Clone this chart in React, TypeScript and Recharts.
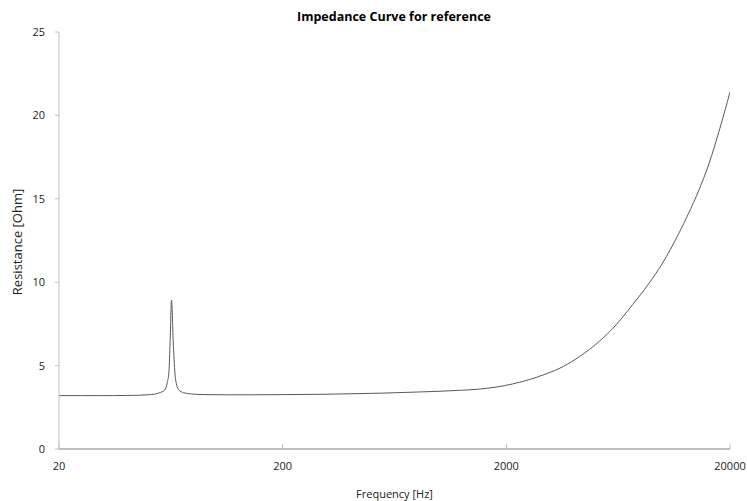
import React from "react";
import {
  LineChart,
  Line,
  XAxis,
  YAxis,
} from "recharts";

// frequency [Hz] and resistance [Ohm]
const frequencies = [
  20, 25, 30, 35, 40, 45, 50, 54, 57, 59.5, 61, 62, 62.8, 63.7, 64.8, 66, 67,
  68.7, 72, 78, 90, 110, 150, 200, 300, 400, 558, 700, 1000, 1250, 1514, 2134,
  3006, 3600, 4236, 5203, 6200, 7329, 8600, 9940, 11832, 13030, 14500, 16100,
  18000, 20000,
];
const resistance = [
  3.2, 3.2, 3.2, 3.2, 3.21, 3.22, 3.25, 3.3, 3.4, 3.54, 4.0, 4.6, 6.5, 8.93,
  6.5, 4.5, 3.9, 3.54, 3.38, 3.3, 3.26, 3.25, 3.25, 3.26, 3.28, 3.31, 3.35,
  3.39, 3.46, 3.52, 3.59, 3.9, 4.5, 4.95, 5.53, 6.45, 7.45, 8.65, 9.85, 11.1,
  12.95, 14.1, 15.5, 17.1, 19.2, 21.4,
];
const xTicks = [20, 200, 2000, 20000];
const yTicks = [0, 5, 10, 15, 20, 25];

const data = frequencies.map((f, i) => ({ f, r: resistance[i] }));

const font = "Open Sans, Carlito, sans-serif";
const gray = "#bfbfbf";

export default function App() {
  return (
    <div
      style={{
        position: "absolute",
        left: 0,
        top: 0,
        width: 747,
        height: 501,
        background: "#fff",
        fontFamily: font,
      }}
    >
      <LineChart
        width={747}
        height={501}
        data={data}
        margin={{ top: 32, right: 17, bottom: 0, left: 0 }}
      >
        <text
          x={394}
          y={21}
          textAnchor="middle"
          fontSize={12.5}
          fontWeight="bold"
          fill="#000"
          fontFamily={font}
        >
          Impedance Curve for reference
        </text>
        {/* judul sumbu Y diputar manual */}
        <text
          x={0}
          y={0}
          transform="translate(22, 242) rotate(-90)"
          textAnchor="middle"
          fontSize={13}
          fill="#222"
          fontFamily={font}
        >
          Resistance [Ohm]
        </text>
        <XAxis
          xAxisId="top"
          orientation="top"
          type="number"
          dataKey="f"
          scale="log"
          domain={[20, 20000]}
          tick={false}
          tickLine={false}
          axisLine={{ stroke: gray }}
          height={0}
        />
        <YAxis
          yAxisId="right"
          orientation="right"
          type="number"
          domain={[0, 25]}
          tick={false}
          tickLine={false}
          axisLine={{ stroke: gray }}
          width={0}
        />
        <XAxis
          type="number"
          dataKey="f"
          scale="log"
          domain={[20, 20000]}
          ticks={xTicks}
          allowDataOverflow
          tickLine={{ stroke: gray }}
          tickSize={-5}
          axisLine={{ stroke: gray, strokeWidth: 2 }}
          tick={{ fontSize: 11, fill: "#222", fontFamily: font, dy: 16 }}
          height={52}
          label={{
            value: "Frequency [Hz]",
            position: "insideBottom",
            offset: 3,
            fontSize: 11,
            fill: "#222",
            fontFamily: font,
          }}
        />
        <YAxis
          type="number"
          domain={[0, 25]}
          ticks={yTicks}
          tickLine={{ stroke: gray }}
          tickSize={4}
          axisLine={{ stroke: gray }}
          tick={{ fontSize: 11, fill: "#222", fontFamily: font, dx: -8 }}
          width={59}
        />
        <Line
          type="monotone"
          dataKey="r"
          stroke="#595959"
          strokeWidth={1}
          dot={false}
          isAnimationActive={false}
        />
      </LineChart>
    </div>
  );
}
